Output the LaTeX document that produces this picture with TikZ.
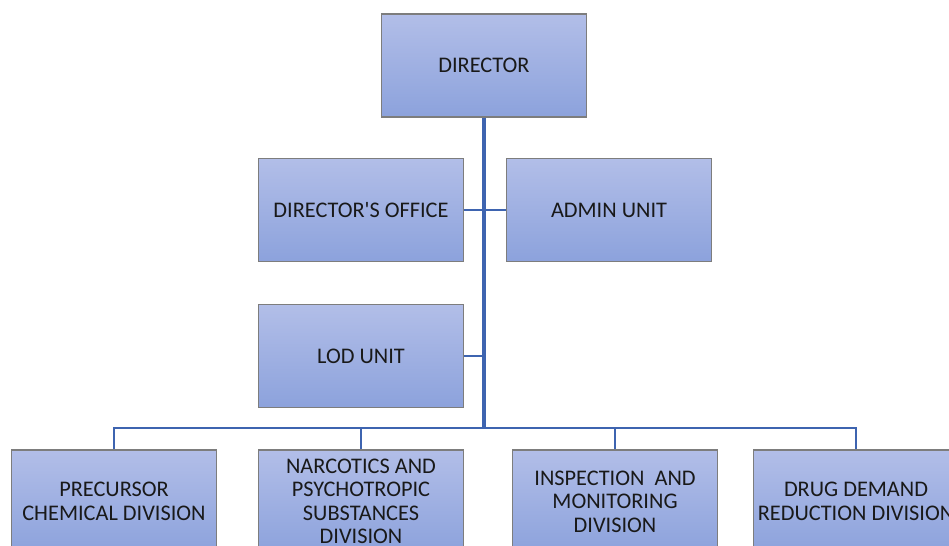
\documentclass[tikz,border=0pt]{standalone}
\usepackage{fontspec}
\setmainfont{Carlito}
\usepackage{tikz}
\usetikzlibrary{positioning,calc}
\definecolor{boxtop}{RGB}{178,190,232}
\definecolor{boxbot}{RGB}{140,162,220}
\definecolor{boxline}{RGB}{125,125,125}
\definecolor{link}{RGB}{62,100,176}

\begin{document}
\begin{tikzpicture}[x=0.02cm,y=-0.02cm,
  unit/.style={rectangle,draw=boxline,line width=0.8pt,top color=boxtop,bottom color=boxbot,
               align=center,minimum width=4.1cm,minimum height=2.06cm,
               inner sep=2pt,font=\fontsize{12.7}{13.4}\selectfont,text=black!90},
  trunk/.style={link,line width=2pt},
  branch/.style={link,line width=1.5pt}
]
\useasboundingbox (0,0) rectangle (949,546);
\clip (0,0) rectangle (949,546);

% top level
\node[unit] (director) at (484,65.5) {DIRECTOR};
\node[unit] (doffice)  at (361,210)  {DIRECTOR\textquotesingle S OFFICE};
\node[unit] (admin)    at (609,210)  {ADMIN UNIT};
\node[unit] (lod)      at (361,356)  {LOD UNIT};

% divisions
\node[unit] (pcd) at (114,501.5) {PRECURSOR\\CHEMICAL DIVISION};
\node[unit] (nps) at (361,501.5) {NARCOTICS AND\\PSYCHOTROPIC\\SUBSTANCES\\DIVISION};
\node[unit] (imd) at (615,501.5) {INSPECTION~ AND\\MONITORING\\DIVISION};
\node[unit] (ddr) at (856,501.5) {DRUG DEMAND\\REDUCTION DIVISION};

\coordinate (bus) at (485,428);

% links
\draw[trunk] (director.south) -- (director.south |- bus);
\draw[branch] (doffice.east) -- (admin.west);
\draw[branch] (lod.east) -- (lod.east -| director.south);
\draw[branch] (pcd.north) |- (bus) -| (ddr.north);
\draw[branch] (nps.north) -- (nps.north |- bus);
\draw[branch] (imd.north) -- (imd.north |- bus);
\end{tikzpicture}
\end{document}
